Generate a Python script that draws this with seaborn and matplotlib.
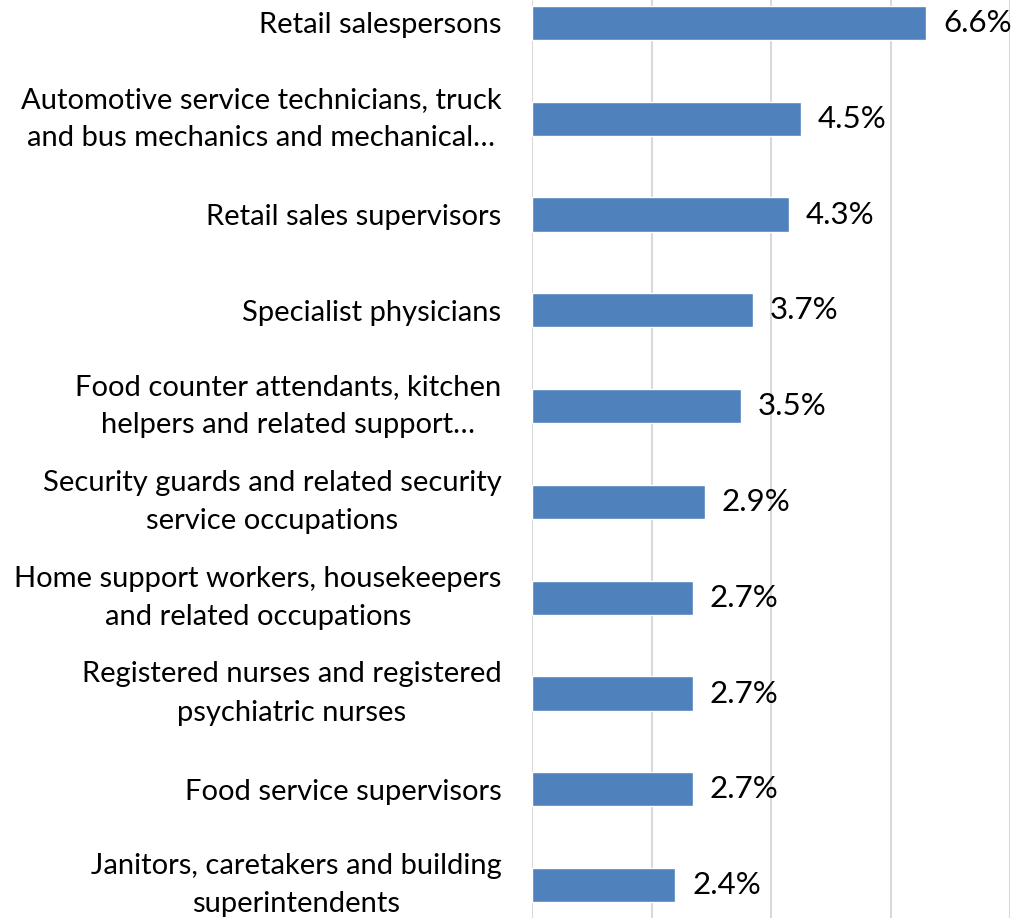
import pandas as pd
import seaborn as sns
import matplotlib.pyplot as plt

occupations = [
    "Retail salespersons",
    "Automotive service technicians, truck\nand bus mechanics and mechanical…",
    "Retail sales supervisors",
    "Specialist physicians",
    "Food counter attendants, kitchen\nhelpers and related support…",
    "Security guards and related security\nservice occupations",
    "Home support workers, housekeepers\nand related occupations",
    "Registered nurses and registered\npsychiatric nurses",
    "Food service supervisors",
    "Janitors, caretakers and building\nsuperintendents",
]
shares = [6.6, 4.5, 4.3, 3.7, 3.5, 2.9, 2.7, 2.7, 2.7, 2.4]

df = pd.DataFrame({"occupation": occupations, "share": shares})

sns.set_style("white")
plt.rcParams["font.family"] = ["Lato", "DejaVu Sans"]
plt.rcParams["text.color"] = "black"
plt.rcParams["ytick.color"] = "black"

fig = plt.figure(figsize=(10.35, 9.18), dpi=100)
# axes is cropped at top and bottom like the original screenshot
ax = fig.add_axes([532 / 1035, -15 / 918, (1010 - 532) / 1035, 958 / 918])

sns.barplot(data=df, x="share", y="occupation", color="#4F81BD",
            width=0.355, saturation=1, ax=ax)

ax.set_xlim(0, 8)
ax.set_xticks([0, 2, 4, 6, 8])
ax.xaxis.grid(True, color="#D9D9D9", linewidth=1.5)
ax.set_axisbelow(True)
ax.tick_params(axis="x", labelbottom=False, length=0)
ax.tick_params(axis="y", length=0, pad=22, labelsize=21, labelcolor="black")
for lbl in ax.get_yticklabels():
    if "\n" in lbl.get_text():
        lbl.set_multialignment("center")
        lbl.set_linespacing(1.58)
        lbl.set_verticalalignment("center")
for s in ax.spines.values():
    s.set_visible(False)
ax.set_xlabel("")
ax.set_ylabel("")

ax.bar_label(ax.containers[0], labels=[f"{v:.1f}%" for v in shares],
             padding=12, fontsize=22.5, color="black")

fig.savefig("out.png", dpi=100)
